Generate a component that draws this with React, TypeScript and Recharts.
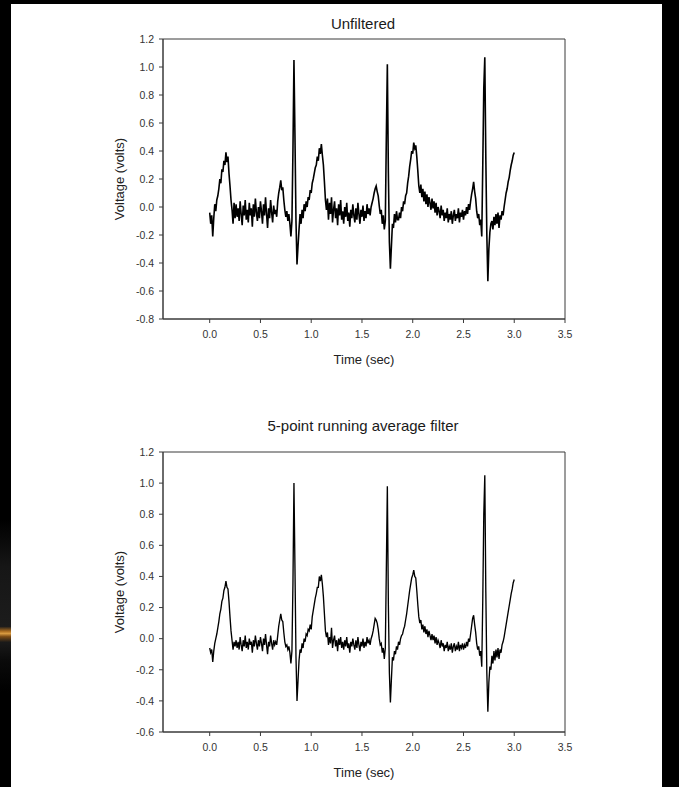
import React from 'react';
import { LineChart, Line, XAxis, YAxis, ReferenceArea } from 'recharts';

// ---- data -------------------------------------------------------------
const sampleStepSec = 0.01; // one reading every 10 ms, starting at 0.00 s
const timeTicks = [0, 0.5, 1, 1.5, 2, 2.5, 3, 3.5];
const timeDomain: [number, number] = [-0.46, 3.5];
const unfilteredTicks = [-0.8, -0.6, -0.4, -0.2, 0, 0.2, 0.4, 0.6, 0.8, 1.0, 1.2];
const filteredTicks = [-0.6, -0.4, -0.2, 0, 0.2, 0.4, 0.6, 0.8, 1.0, 1.2];

const unfilteredVolts = [
  -0.04, -0.12, -0.06, -0.21, -0.08, 0.02, -0.03, 0.05, 0.08, 0.13,
  0.20, 0.17, 0.27, 0.25, 0.33, 0.30, 0.39, 0.32, 0.36, 0.24,
  0.15, 0.05, -0.02, -0.12, 0.03, -0.08, 0.02, -0.07, -0.01, -0.10,
  0.04, -0.05, -0.13, 0.01, -0.06, 0.05, -0.09, -0.02, -0.11, 0.03,
  -0.06, -0.01, -0.14, 0.02, -0.07, 0.06, -0.04, -0.10, 0.00, -0.08,
  0.04, -0.03, -0.12, 0.02, -0.06, 0.07, -0.05, -0.15, -0.01, -0.08,
  0.05, -0.04, -0.11, 0.01, -0.05, -0.02, -0.07, 0.04, 0.10, 0.14,
  0.19, 0.12, 0.14, 0.05, -0.02, -0.07, -0.03, -0.10, -0.05, -0.12,
  -0.21, -0.10, 0.40, 1.05, 0.50, -0.10, -0.41, -0.28, -0.16, -0.05,
  -0.12, -0.02, -0.08, 0.02, -0.03, 0.04, 0.00, 0.07, 0.05, 0.12,
  0.10, 0.17, 0.20, 0.24, 0.28, 0.30, 0.36, 0.33, 0.42, 0.38,
  0.45, 0.37, 0.30, 0.18, 0.05, -0.02, 0.06, -0.09, 0.03, -0.05,
  0.07, -0.11, -0.02, 0.04, -0.08, -0.01, -0.13, 0.02, -0.06, 0.05,
  -0.09, -0.03, -0.12, 0.00, -0.07, 0.03, -0.10, -0.04, -0.14, -0.02,
  -0.08, 0.02, -0.06, -0.11, -0.01, -0.09, 0.03, -0.05, -0.12, -0.02,
  -0.07, 0.01, -0.10, -0.03, -0.08, 0.02, -0.05, -0.01, -0.06, 0.00,
  0.03, 0.06, 0.10, 0.13, 0.15, 0.11, 0.08, 0.01, -0.05, -0.02,
  -0.12, -0.06, -0.16, -0.10, 0.50, 1.02, 0.25, -0.25, -0.44, -0.28,
  -0.12, -0.15, -0.05, -0.11, -0.03, -0.09, -0.09, -0.04, -0.08, 0.00,
  -0.03, 0.04, 0.02, 0.08, 0.10, 0.17, 0.22, 0.29, 0.34, 0.40,
  0.38, 0.46, 0.42, 0.44, 0.36, 0.26, 0.15, 0.10, 0.16, 0.07,
  0.13, 0.04, 0.11, 0.02, 0.09, 0.00, 0.07, 0.03, -0.02, 0.06,
  -0.01, 0.04, -0.04, 0.03, -0.06, 0.00, -0.03, -0.08, 0.01, -0.06,
  -0.02, -0.10, -0.04, -0.08, -0.01, -0.11, -0.05, -0.09, -0.03, -0.12,
  -0.06, -0.02, -0.10, -0.05, -0.08, -0.01, -0.11, -0.04, -0.07, -0.02,
  -0.09, -0.03, -0.06, 0.00, -0.05, 0.02, -0.02, 0.04, 0.09, 0.13,
  0.18, 0.11, 0.06, -0.03, -0.08, -0.05, -0.13, -0.09, -0.21, 0.30,
  0.85, 1.07, 0.35, -0.20, -0.53, -0.30, -0.18, -0.12, -0.10, -0.16,
  -0.07, -0.13, -0.05, -0.12, -0.04, -0.15, -0.06, -0.09, -0.03, -0.06,
  0.00, 0.05, 0.10, 0.13, 0.18, 0.21, 0.26, 0.30, 0.33, 0.37,
  0.39,
];

const filteredVolts = [
  -0.06, -0.09, -0.07, -0.15, -0.08, -0.03, 0.00, 0.03, 0.07, 0.11,
  0.16, 0.19, 0.24, 0.26, 0.31, 0.33, 0.37, 0.33, 0.32, 0.24,
  0.14, 0.05, -0.01, -0.07, -0.02, -0.05, -0.01, -0.06, -0.02, -0.07,
  0.01, -0.04, -0.08, -0.01, -0.05, 0.02, -0.06, -0.02, -0.07, 0.00,
  -0.04, -0.02, -0.09, -0.01, -0.05, 0.02, -0.03, -0.07, -0.01, -0.05,
  0.01, -0.03, -0.08, 0.00, -0.04, 0.03, -0.04, -0.10, -0.02, -0.05,
  0.02, -0.03, -0.07, -0.01, -0.04, -0.02, -0.04, 0.02, 0.08, 0.12,
  0.16, 0.12, 0.11, 0.04, -0.02, -0.05, -0.04, -0.07, -0.05, -0.09,
  -0.16, -0.08, 0.35, 1.00, 0.45, -0.12, -0.40, -0.27, -0.14, -0.07,
  -0.09, -0.03, -0.06, 0.00, -0.02, 0.03, 0.02, 0.06, 0.05, 0.09,
  0.06, 0.14, 0.18, 0.22, 0.26, 0.29, 0.33, 0.33, 0.40, 0.37,
  0.41, 0.35, 0.27, 0.16, 0.05, 0.01, 0.04, -0.04, 0.01, -0.03,
  0.07, -0.06, -0.01, 0.02, -0.05, -0.01, -0.08, 0.00, -0.04, 0.01,
  -0.06, -0.02, -0.07, -0.01, -0.05, 0.01, -0.06, -0.03, -0.09, -0.02,
  -0.05, 0.00, -0.04, -0.07, -0.01, -0.06, 0.01, -0.04, -0.08, -0.02,
  -0.05, 0.00, -0.06, -0.02, -0.05, 0.01, -0.03, -0.01, -0.04, 0.00,
  0.02, 0.05, 0.09, 0.13, 0.12, 0.10, 0.06, 0.00, -0.04, -0.03,
  -0.09, -0.06, -0.13, -0.06, 0.45, 0.98, 0.22, -0.22, -0.41, -0.26,
  -0.12, -0.14, -0.08, -0.10, -0.05, -0.07, -0.02, -0.04, 0.00, 0.02,
  0.03, 0.06, 0.08, 0.12, 0.16, 0.21, 0.26, 0.31, 0.35, 0.39,
  0.41, 0.44, 0.40, 0.39, 0.31, 0.22, 0.14, 0.10, 0.12, 0.06,
  0.09, 0.04, 0.08, 0.03, 0.06, 0.01, 0.05, 0.02, -0.01, 0.03,
  -0.01, 0.02, -0.03, 0.01, -0.04, -0.01, -0.03, -0.06, -0.01, -0.05,
  -0.03, -0.08, -0.04, -0.06, -0.02, -0.08, -0.05, -0.07, -0.03, -0.09,
  -0.05, -0.03, -0.08, -0.05, -0.07, -0.02, -0.08, -0.04, -0.06, -0.03,
  -0.07, -0.04, -0.06, -0.02, -0.05, 0.00, -0.02, 0.03, 0.08, 0.13,
  0.15, 0.09, 0.04, -0.03, -0.07, -0.05, -0.11, -0.08, -0.18, 0.25,
  0.80, 1.05, 0.30, -0.22, -0.47, -0.28, -0.18, -0.20, -0.11, -0.16,
  -0.08, -0.14, -0.07, -0.12, -0.06, -0.13, -0.07, -0.09, -0.04, -0.02,
  0.01, 0.05, 0.09, 0.13, 0.17, 0.21, 0.25, 0.29, 0.32, 0.36,
  0.38,
];

const rows = unfilteredVolts.map((v, i) => ({
  t: Math.round(i * sampleStepSec * 1000) / 1000,
  unfiltered: v,
  filtered: filteredVolts[i],
}));

// ---- styling ----------------------------------------------------------
const FONT = '"Liberation Sans", Arial, Helvetica, sans-serif';
const AXIS = '#3a3a3a';
const fmt = (v: number) => v.toFixed(1);

type PanelProps = {
  title: string;
  dataKey: 'unfiltered' | 'filtered';
  yTicks: number[];
  yDomain: [number, number];
  top: number;
  height: number;
  marginTop: number;
  marginBottom: number;
  titleY: number;
  traceWidth: number;
};

function Panel(p: PanelProps) {
  return (
    <div style={{ position: 'absolute', left: 11, top: p.top, width: 651, height: p.height }}>
      <div
        style={{
          position: 'absolute',
          left: 151,
          width: 402,
          top: p.titleY - 9,
          height: 18,
          lineHeight: '18px',
          textAlign: 'center',
          fontFamily: FONT,
          fontSize: 15,
          color: '#1a1a1a',
          whiteSpace: 'nowrap',
        }}
      >
        {p.title}
      </div>
      <LineChart
        width={651}
        height={p.height}
        data={rows}
        margin={{ top: p.marginTop, right: 97, bottom: p.marginBottom, left: 0 }}
      >
        <ReferenceArea
          x1={timeDomain[0]}
          x2={timeDomain[1]}
          y1={p.yDomain[0]}
          y2={p.yDomain[1]}
          fill="none"
          stroke={AXIS}
          strokeWidth={1}
          ifOverflow="visible"
        />
        <XAxis
          dataKey="t"
          type="number"
          domain={timeDomain}
          ticks={timeTicks}
          allowDataOverflow
          tickFormatter={fmt}
          height={50}
          tickSize={4}
          tickMargin={8}
          stroke={AXIS}
          tick={{ fill: '#333', fontSize: 10.5, fontFamily: FONT }}
          label={{
            content: (props: any) => {
              const vb = props.viewBox || {};
              return (
                <text
                  x={vb.x + vb.width / 2}
                  y={vb.y + 40}
                  textAnchor="middle"
                  dominantBaseline="central"
                  fontFamily={FONT}
                  fontSize={13}
                  fill="#222"
                >
                  Time (sec)
                </text>
              );
            },
          }}
        />
        <YAxis
          type="number"
          domain={p.yDomain}
          ticks={p.yTicks}
          allowDataOverflow
          tickFormatter={fmt}
          width={152}
          tickSize={4}
          tickMargin={5}
          stroke={AXIS}
          tick={{ fill: '#333', fontSize: 10.5, fontFamily: FONT }}
          label={{
            content: (props: any) => {
              const vb = props.viewBox || {};
              const cx = vb.x + vb.width - 44;
              const cy = vb.y + vb.height / 2;
              return (
                <text
                  x={cx}
                  y={cy}
                  transform={`rotate(-90, ${cx}, ${cy})`}
                  textAnchor="middle"
                  dominantBaseline="central"
                  fontFamily={FONT}
                  fontSize={13}
                  fill="#222"
                >
                  Voltage (volts)
                </text>
              );
            },
          }}
        />
        <Line
          type="linear"
          dataKey={p.dataKey}
          stroke="#000"
          strokeWidth={p.traceWidth}
          strokeLinejoin="miter"
          dot={false}
          activeDot={false}
          isAnimationActive={false}
        />
      </LineChart>
    </div>
  );
}

export default function App() {
  return (
    <div
      style={{
        position: 'absolute',
        left: 0,
        top: 0,
        width: 679,
        height: 787,
        background: '#000',
        overflow: 'hidden',
      }}
    >
      <div
        style={{
          position: 'absolute',
          left: 0,
          top: 0,
          width: 11,
          height: 787,
          background:
            'linear-gradient(to bottom, #000 0%, #000 66%, #161616 72%, #1c1c1c 79.6%, #a86a1e 80.2%, #d89a40 80.5%, #7a4a14 80.9%, #1a1a1a 81.6%, #0a0a0a 84%, #000 88%, #000 100%)',
        }}
      />
      <div style={{ position: 'absolute', left: 11, top: 4, width: 651, height: 783, background: '#fff' }} />
      <Panel
        title="Unfiltered"
        dataKey="unfiltered"
        yTicks={unfilteredTicks}
        yDomain={[-0.8, 1.2]}
        top={4}
        height={380}
        marginTop={35}
        marginBottom={15}
        titleY={20}
        traceWidth={1.6}
      />
      <Panel
        title="5-point running average filter"
        dataKey="filtered"
        yTicks={filteredTicks}
        yDomain={[-0.6, 1.2]}
        top={390}
        height={397}
        marginTop={62}
        marginBottom={5}
        titleY={36}
        traceWidth={1.35}
      />
    </div>
  );
}
